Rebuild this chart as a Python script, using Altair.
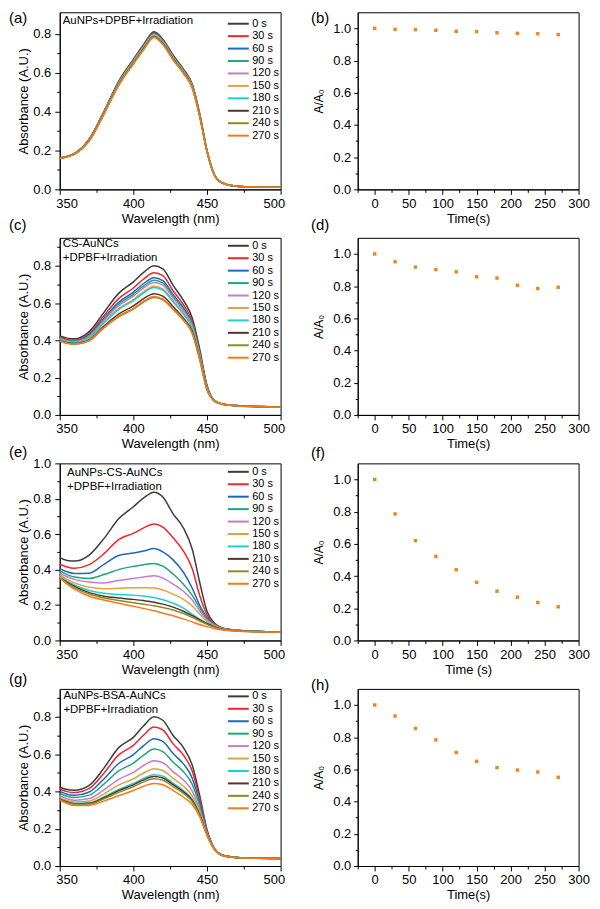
import altair as alt
import pandas as pd

FONT = "Liberation Sans"

WAVELENGTH = [350, 355, 360, 370, 380, 390, 400, 407, 414, 420, 427, 434, 440, 445, 450, 455, 460, 470, 485, 500]
TIME_LABELS = ["0 s", "30 s", "60 s", "90 s", "120 s", "150 s", "180 s", "210 s", "240 s", "270 s"]
TIMES = [0, 30, 60, 90, 120, 150, 180, 210, 240, 270]
COLORS = ["#3c3c3c", "#f0262a", "#1f66c4", "#1ea776", "#c77bc8",
          "#e0a33a", "#18d0d4", "#5b2f2f", "#8b8b27", "#f67a1a"]
MARKER_COLOR = "#f0851f"

SPEC_A = [
    [0.160, 0.169, 0.184, 0.258, 0.400, 0.555, 0.668, 0.745, 0.810, 0.772, 0.690, 0.618, 0.540, 0.390, 0.200, 0.075, 0.035, 0.016, 0.012, 0.011],
    [0.160, 0.169, 0.184, 0.257, 0.397, 0.551, 0.664, 0.740, 0.805, 0.767, 0.686, 0.614, 0.537, 0.388, 0.199, 0.075, 0.035, 0.016, 0.012, 0.011],
    [0.160, 0.169, 0.184, 0.256, 0.396, 0.550, 0.662, 0.739, 0.803, 0.765, 0.684, 0.613, 0.535, 0.387, 0.199, 0.075, 0.035, 0.016, 0.012, 0.011],
    [0.160, 0.169, 0.183, 0.255, 0.395, 0.548, 0.660, 0.736, 0.800, 0.762, 0.682, 0.610, 0.533, 0.386, 0.198, 0.075, 0.035, 0.016, 0.012, 0.011],
    [0.160, 0.169, 0.183, 0.254, 0.393, 0.545, 0.657, 0.732, 0.796, 0.759, 0.678, 0.607, 0.531, 0.384, 0.197, 0.075, 0.035, 0.016, 0.012, 0.011],
    [0.160, 0.168, 0.183, 0.253, 0.392, 0.544, 0.655, 0.730, 0.794, 0.757, 0.676, 0.606, 0.530, 0.383, 0.197, 0.075, 0.035, 0.016, 0.012, 0.011],
    [0.159, 0.168, 0.182, 0.252, 0.390, 0.541, 0.652, 0.727, 0.790, 0.753, 0.673, 0.603, 0.527, 0.381, 0.196, 0.075, 0.035, 0.016, 0.012, 0.011],
    [0.159, 0.168, 0.182, 0.251, 0.388, 0.538, 0.648, 0.723, 0.786, 0.749, 0.670, 0.600, 0.524, 0.379, 0.195, 0.075, 0.035, 0.016, 0.012, 0.011],
    [0.159, 0.168, 0.182, 0.250, 0.387, 0.537, 0.647, 0.721, 0.784, 0.747, 0.668, 0.598, 0.523, 0.378, 0.195, 0.075, 0.035, 0.016, 0.012, 0.011],
    [0.158, 0.167, 0.181, 0.249, 0.385, 0.534, 0.643, 0.717, 0.780, 0.744, 0.665, 0.595, 0.520, 0.376, 0.194, 0.075, 0.035, 0.016, 0.012, 0.011],
]

SPEC_C = [
    [0.423, 0.412, 0.408, 0.447, 0.550, 0.652, 0.714, 0.765, 0.800, 0.784, 0.695, 0.615, 0.520, 0.355, 0.160, 0.078, 0.060, 0.050, 0.045, 0.042],
    [0.417, 0.406, 0.402, 0.436, 0.532, 0.624, 0.681, 0.729, 0.762, 0.747, 0.666, 0.591, 0.502, 0.342, 0.154, 0.077, 0.060, 0.050, 0.045, 0.042],
    [0.412, 0.401, 0.397, 0.429, 0.519, 0.604, 0.659, 0.705, 0.736, 0.721, 0.646, 0.574, 0.489, 0.334, 0.150, 0.077, 0.059, 0.050, 0.045, 0.042],
    [0.410, 0.399, 0.395, 0.425, 0.512, 0.595, 0.647, 0.692, 0.722, 0.708, 0.636, 0.566, 0.482, 0.329, 0.148, 0.077, 0.059, 0.050, 0.045, 0.042],
    [0.408, 0.397, 0.393, 0.421, 0.506, 0.586, 0.637, 0.681, 0.710, 0.696, 0.627, 0.558, 0.476, 0.325, 0.146, 0.076, 0.059, 0.050, 0.045, 0.042],
    [0.405, 0.394, 0.389, 0.416, 0.497, 0.571, 0.619, 0.662, 0.690, 0.676, 0.612, 0.545, 0.467, 0.318, 0.143, 0.076, 0.059, 0.049, 0.044, 0.041],
    [0.404, 0.393, 0.388, 0.414, 0.493, 0.565, 0.613, 0.655, 0.683, 0.669, 0.606, 0.540, 0.463, 0.316, 0.142, 0.076, 0.058, 0.049, 0.044, 0.041],
    [0.398, 0.387, 0.383, 0.404, 0.477, 0.541, 0.585, 0.624, 0.650, 0.637, 0.581, 0.519, 0.447, 0.305, 0.137, 0.075, 0.058, 0.049, 0.044, 0.041],
    [0.395, 0.384, 0.379, 0.398, 0.467, 0.526, 0.568, 0.605, 0.630, 0.617, 0.566, 0.507, 0.437, 0.298, 0.134, 0.075, 0.058, 0.049, 0.044, 0.041],
    [0.396, 0.385, 0.380, 0.400, 0.470, 0.530, 0.572, 0.610, 0.635, 0.622, 0.570, 0.510, 0.440, 0.300, 0.135, 0.075, 0.058, 0.049, 0.044, 0.041],
]

SPEC_E = [
    [0.468, 0.452, 0.448, 0.482, 0.575, 0.687, 0.755, 0.805, 0.837, 0.810, 0.715, 0.635, 0.515, 0.330, 0.165, 0.098, 0.072, 0.058, 0.051, 0.046],
    [0.432, 0.415, 0.408, 0.428, 0.490, 0.570, 0.605, 0.636, 0.658, 0.640, 0.580, 0.505, 0.405, 0.255, 0.145, 0.094, 0.071, 0.058, 0.051, 0.046],
    [0.406, 0.388, 0.378, 0.380, 0.430, 0.480, 0.494, 0.505, 0.519, 0.500, 0.455, 0.385, 0.295, 0.200, 0.130, 0.092, 0.070, 0.057, 0.051, 0.046],
    [0.394, 0.372, 0.358, 0.350, 0.372, 0.400, 0.418, 0.428, 0.435, 0.420, 0.375, 0.318, 0.255, 0.185, 0.120, 0.088, 0.068, 0.057, 0.051, 0.046],
    [0.382, 0.360, 0.345, 0.330, 0.325, 0.338, 0.350, 0.358, 0.365, 0.352, 0.318, 0.278, 0.228, 0.168, 0.115, 0.086, 0.067, 0.056, 0.050, 0.046],
    [0.372, 0.345, 0.325, 0.300, 0.292, 0.295, 0.298, 0.298, 0.296, 0.285, 0.262, 0.232, 0.195, 0.150, 0.108, 0.083, 0.066, 0.056, 0.050, 0.046],
    [0.362, 0.335, 0.313, 0.282, 0.266, 0.260, 0.256, 0.251, 0.243, 0.230, 0.210, 0.182, 0.148, 0.120, 0.097, 0.079, 0.064, 0.055, 0.050, 0.046],
    [0.355, 0.328, 0.305, 0.270, 0.250, 0.240, 0.232, 0.225, 0.216, 0.205, 0.188, 0.165, 0.140, 0.118, 0.095, 0.078, 0.063, 0.055, 0.050, 0.046],
    [0.352, 0.322, 0.298, 0.262, 0.240, 0.226, 0.213, 0.204, 0.196, 0.186, 0.172, 0.152, 0.130, 0.110, 0.091, 0.076, 0.062, 0.054, 0.050, 0.046],
    [0.360, 0.318, 0.290, 0.250, 0.228, 0.210, 0.193, 0.181, 0.168, 0.155, 0.140, 0.122, 0.105, 0.090, 0.078, 0.068, 0.060, 0.053, 0.049, 0.046],
]

SPEC_G = [
    [0.424, 0.410, 0.406, 0.432, 0.525, 0.635, 0.690, 0.752, 0.800, 0.782, 0.700, 0.635, 0.540, 0.380, 0.195, 0.094, 0.060, 0.046, 0.042, 0.040],
    [0.413, 0.399, 0.394, 0.416, 0.498, 0.596, 0.647, 0.703, 0.746, 0.730, 0.655, 0.595, 0.508, 0.363, 0.190, 0.093, 0.060, 0.046, 0.042, 0.040],
    [0.400, 0.385, 0.379, 0.397, 0.467, 0.550, 0.597, 0.646, 0.683, 0.669, 0.603, 0.548, 0.471, 0.342, 0.185, 0.093, 0.059, 0.046, 0.042, 0.040],
    [0.389, 0.374, 0.367, 0.380, 0.439, 0.510, 0.552, 0.595, 0.627, 0.614, 0.557, 0.506, 0.438, 0.324, 0.180, 0.092, 0.059, 0.046, 0.041, 0.040],
    [0.377, 0.361, 0.353, 0.362, 0.409, 0.465, 0.502, 0.539, 0.565, 0.554, 0.506, 0.461, 0.402, 0.304, 0.175, 0.092, 0.059, 0.045, 0.041, 0.040],
    [0.368, 0.351, 0.343, 0.349, 0.387, 0.434, 0.468, 0.499, 0.522, 0.512, 0.470, 0.428, 0.376, 0.290, 0.172, 0.091, 0.058, 0.045, 0.041, 0.040],
    [0.361, 0.345, 0.336, 0.339, 0.371, 0.411, 0.443, 0.471, 0.490, 0.482, 0.444, 0.405, 0.358, 0.280, 0.169, 0.091, 0.058, 0.045, 0.041, 0.040],
    [0.359, 0.343, 0.333, 0.336, 0.366, 0.404, 0.435, 0.462, 0.480, 0.472, 0.436, 0.398, 0.352, 0.277, 0.168, 0.091, 0.058, 0.045, 0.041, 0.040],
    [0.357, 0.340, 0.331, 0.332, 0.360, 0.395, 0.425, 0.451, 0.468, 0.460, 0.426, 0.389, 0.345, 0.273, 0.167, 0.090, 0.058, 0.045, 0.041, 0.040],
    [0.352, 0.335, 0.325, 0.325, 0.348, 0.377, 0.405, 0.428, 0.443, 0.436, 0.405, 0.370, 0.330, 0.265, 0.165, 0.090, 0.058, 0.045, 0.041, 0.040],
]

RATIO_B = [1.000, 0.994, 0.992, 0.988, 0.982, 0.980, 0.973, 0.969, 0.967, 0.961]
RATIO_D = [1.000, 0.951, 0.918, 0.903, 0.889, 0.858, 0.850, 0.805, 0.785, 0.793]
RATIO_F = [1.000, 0.786, 0.620, 0.522, 0.439, 0.361, 0.306, 0.269, 0.236, 0.209]
RATIO_H = [1.000, 0.932, 0.854, 0.783, 0.705, 0.650, 0.611, 0.596, 0.584, 0.551]

W, H = 222, 178

EVEN_TENTH = "round(datum.value*10) % 2 === 0"
TENTHS = [round(0.1 * i, 1) for i in range(11)]


def tick_size(test, major, minor):
    return {"condition": {"test": test, "value": major}, "value": minor}


def text_mark(txt, x, y, size, align="left"):
    return alt.Chart(pd.DataFrame({"k": [0]})).mark_text(
        text=txt, align=align, baseline="middle", fontSize=size, font=FONT, color="black"
    ).encode(x=alt.value(x), y=alt.value(y))


def spectrum_panel(spec, ymax, ytick_max, notes, note_x, note_y, label, label_y, legend_y):
    rows = []
    for tl, series in zip(TIME_LABELS, spec):
        for w, v in zip(WAVELENGTH, series):
            rows.append({"wl": w, "A": v, "t": tl})
    df = pd.DataFrame(rows)
    yvals = [v for v in TENTHS if v <= ytick_max + 1e-9]
    lines = alt.Chart(df).mark_line(strokeWidth=1.5, interpolate="monotone").encode(
        x=alt.X("wl:Q", scale=alt.Scale(domain=[350, 500], nice=False, zero=False),
                axis=alt.Axis(title="Wavelength (nm)", values=[350, 375, 400, 425, 450, 475, 500],
                              labelExpr="datum.value % 50 === 0 ? datum.label : ''",
                              tickSize=tick_size("datum.value % 50 === 0", 5, 3),
                              labelFlush=True, labelFlushOffset=4, labelOverlap=False,
                              labelPadding=3, titlePadding=2)),
        y=alt.Y("A:Q", scale=alt.Scale(domain=[0, ymax], nice=False, zero=True),
                axis=alt.Axis(title="Absorbance (A.U.)", values=yvals,
                              labelExpr=EVEN_TENTH + " ? format(datum.value, '.1f') : ''",
                              tickSize=tick_size(EVEN_TENTH, 5, 3),
                              labelOverlap=False, labelPadding=4, titlePadding=2)),
        color=alt.Color("t:N", sort=TIME_LABELS,
                        scale=alt.Scale(domain=TIME_LABELS, range=COLORS),
                        legend=alt.Legend(title=None, orient="none", legendX=174, legendY=legend_y,
                                          symbolType="M-3.5,0H3.5", symbolSize=36, symbolStrokeWidth=2,
                                          labelFontSize=11, labelFont=FONT, labelColor="black",
                                          rowPadding=0.5, padding=0, labelOffset=8.5,
                                          direction="vertical")),
    )
    layers = [lines]
    for i, n in enumerate(notes):
        layers.append(text_mark(n, note_x, note_y + 14 * i, 11.5))
    layers.append(text_mark(label, -51, label_y, 15))
    return alt.layer(*layers).properties(width=W, height=H)


def ratio_panel(vals, xtitle, label, label_y):
    df = pd.DataFrame({"time": TIMES, "ratio": vals})
    pts = alt.Chart(df).mark_square(size=12, color=MARKER_COLOR, opacity=1).encode(
        x=alt.X("time:Q", scale=alt.Scale(domain=[-25, 300], nice=False, zero=False),
                axis=alt.Axis(title=xtitle, values=[-25, 0, 25, 50, 75, 100, 125, 150, 175, 200, 225, 250, 275, 300],
                              labelExpr="datum.value % 50 === 0 ? datum.label : ''",
                              tickSize=tick_size("datum.value % 50 === 0", 5, 3),
                              labelFlush=False, labelOverlap=False, labelPadding=3, titlePadding=2)),
        y=alt.Y("ratio:Q", scale=alt.Scale(domain=[0, 1.1], nice=False, zero=True),
                axis=alt.Axis(title="A/A\u2080", values=TENTHS,
                              labelExpr=EVEN_TENTH + " ? format(datum.value, '.1f') : ''",
                              tickSize=tick_size(EVEN_TENTH, 4, 2.5),
                              labelOverlap=False, labelPadding=3, titlePadding=7, titleFontSize=12)),
    )
    lab = text_mark(label, -47, label_y, 15)
    return alt.layer(pts, lab).properties(width=W, height=H)


pa = spectrum_panel(SPEC_A, 0.91, 0.8, ["AuNPs+DPBF+Irradiation"], 3, 8.6, "(a)", 5.5, 6)
pb = ratio_panel(RATIO_B, "Time(s)", "(b)", 5.5)
pc = spectrum_panel(SPEC_C, 0.95, 0.9, ["CS-AuNCs", "+DPBF+Irradiation"], 3, 6.7, "(c)", -13, 2.5)
pd_ = ratio_panel(RATIO_D, "Time(s)", "(d)", -13)
pe = spectrum_panel(SPEC_E, 1.0, 1.0, ["AuNPs-CS-AuNCs", "+DPBF+Irradiation"], 7.4, 9.3, "(e)", -11, 3)
pf = ratio_panel(RATIO_F, "Time (s)", "(f)", -10)
pg = spectrum_panel(SPEC_G, 0.95, 0.9, ["AuNPs-BSA-AuNCs", "+DPBF+Irradiation"], 3.7, 7.6, "(g)", -10, 2)
ph = ratio_panel(RATIO_H, "Time(s)", "(h)", -4)

chart = alt.concat(
    pa, pb, pc, pd_, pe, pf, pg, ph,
    columns=2,
    spacing={"row": 48.7, "column": 77.5},
    bounds="flush",
).resolve_scale(
    color="independent", x="independent", y="independent"
).resolve_legend(
    color="independent"
).properties(
    padding={"left": 0, "top": 0, "right": 2, "bottom": 0},
    background="white",
).configure_view(
    stroke="black", strokeWidth=1
).configure_axis(
    grid=False, domainColor="black", domainWidth=1, tickColor="black", tickWidth=1,
    labelColor="black", titleColor="black", labelFont=FONT, titleFont=FONT,
    labelFontSize=13, titleFontSize=13, titleFontWeight="normal",
)

chart.save("out.html", embed_options={"renderer": "svg", "actions": False})
